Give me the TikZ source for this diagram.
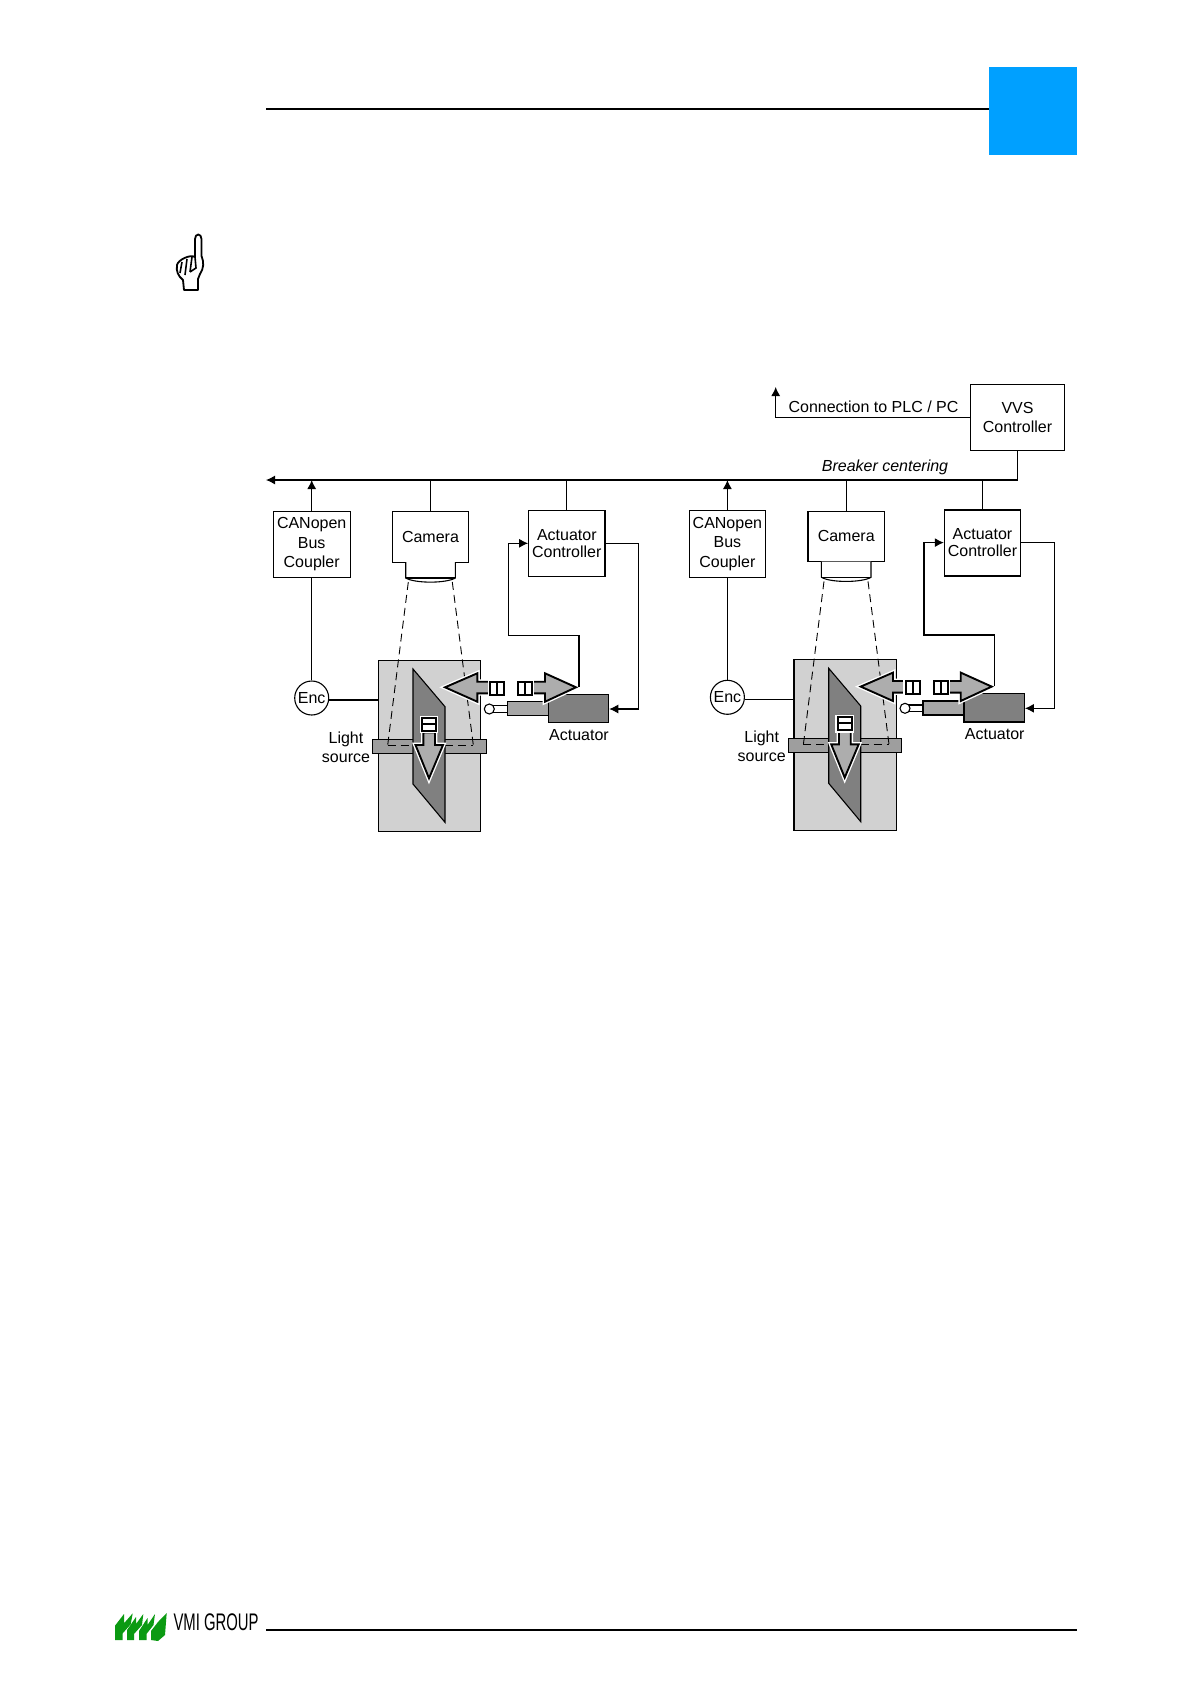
\documentclass[tikz,border=0pt]{standalone}
\usepackage{fontspec}
\setmainfont{Liberation Sans}
\usetikzlibrary{arrows.meta}
\definecolor{tabblue}{HTML}{00A0FF}
\definecolor{logogreen}{HTML}{0B9A12}
\tikzset{
    boxnode/.style={draw,fill=white,align=center,line width=1.1pt,inner sep=0pt},
    lbl/.style={align=center,inner sep=0pt},
    wire/.style={line width=1.1pt},
    arrowwire/.style={wire,-{Latex[length=9pt,width=9pt]}},
    dashwire/.style={line width=0.9pt,dash pattern=on 8pt off 5pt},
    movearrow/.style={preaction={draw=white,line width=4.6pt},draw=black,line width=1.9pt,fill=black!32},
}
\begin{document}
\begin{tikzpicture}[x=1pt,y=-1pt,font=\fontsize{16}{19.5}\selectfont]
    \useasboundingbox (0,0) rectangle (1191,1684);
    % page furniture
    \fill[tabblue] (989,66.6) rectangle (1077,154.6);
    \draw[line width=2pt] (266,108.5) -- (989,108.5);
    \draw[line width=2pt] (266,1629.5) -- (1077,1629.5);
    \fill[logogreen] (115,1625.7) -- (124,1614) -- (124,1623.3) -- (132.7,1613.3) -- (130.7,1624.3) -- (122.7,1633.3) -- (122.7,1640) -- (115,1640) -- cycle;
    \fill[logogreen] (127,1640) -- (127,1630) -- (136,1617) -- (136,1624) -- (143.3,1614) -- (142,1625) -- (134,1634) -- (134,1640) -- cycle;
    \fill[logogreen] (139,1640) -- (139,1631) -- (147.5,1618) -- (147.5,1625) -- (155,1614) -- (153.5,1625) -- (146.5,1634) -- (146.5,1640) -- cycle;
    \fill[logogreen] (151,1640) -- (151,1631) -- (158,1622) -- (166.7,1613) -- (165,1635) -- (158,1641) -- cycle;
    \node[lbl,anchor=west,font=\fontsize{24}{24}\selectfont] (logotext) at (173.3,1622) {\scalebox{0.62}[1]{VMI GROUP}};
    % pointing hand
    \draw[line width=1.8pt,fill=white,line join=round] (195,257) -- (195,239) .. controls (195,233) and (201.5,233) .. (201.5,239)
        -- (201.5,256) .. controls (204,262) and (204,268) .. (200,274) -- (198,279) -- (198,290) -- (184,290) -- (183,280)
        .. controls (178,276) and (176,271) .. (177,265) .. controls (178,260) and (190,254) .. (195,257) -- cycle;
    \draw[line width=1.6pt] (182,262) -- (180,273) (187,259) -- (185,275) (192,257) -- (190,272) (195,257) -- (196,268) -- (190,272);
    % top of the chain
    \node[boxnode,minimum width=93.6pt,minimum height=66.4pt] (vvs) at (1017.5,417.5) {VVS\\Controller};
    \coordinate (plcend) at (775.7,387);
    \coordinate (busend) at (266,480);
    \draw[arrowwire] (vvs.west |- 0,417.7) -| (plcend);
    \draw[arrowwire] (vvs.south) |- (busend);
    \node[lbl] (plclabel) at (873.5,407) {Connection to PLC / PC};
    \node[lbl,font=\fontsize{16}{19}\selectfont\itshape] (buslabel) at (885,467) {Breaker centering};
    % both centering stations
    \foreach \st/\dx/\dy in {a/0/0,b/415.7/-0.7} {
    \begin{scope}[shift={(\dx,\dy)}]
        \node[boxnode,minimum width=76.7pt,minimum height=66.7pt] (coupler\st) at (311.7,544.4) {CANopen\\Bus\\Coupler};
        \node[boxnode,minimum width=76.4pt,minimum height=50.3pt] (camera\st) at (430.5,537) {Camera};
        \node[boxnode,minimum width=76.3pt,minimum height=66pt,font=\fontsize{16}{17}\selectfont] (actctrl\st) at (566.8,543.7) {Actuator\\Controller};
        \node[draw,circle,fill=white,minimum size=34pt,inner sep=0pt,line width=1.1pt] (enc\st) at (311.7,698) {Enc};
        % product block and light source
        \node[draw,fill=black!18,minimum width=102.4pt,minimum height=171pt,inner sep=0pt,line width=1.1pt] (block\st) at (429.5,745.8) {};
        \node[draw,fill=black!38,minimum width=113.7pt,minimum height=14pt,inner sep=0pt,line width=1.1pt] (light\st) at (429.2,746.3) {};
        \draw[line width=1.1pt,fill=black!50] (413,669) -- (445,706.7) -- (445,822.3) -- (413,784) -- cycle;
        \draw[dashwire] (387.7,745) -- (413,745) (445,745) -- (473.3,745);
        % lens
        \draw[wire,fill=white] (405.7,562.2) -- (405.7,578) .. controls (415,583.5) and (446,583.5) .. (455.3,578) -- (455.3,562.2);
        \draw[wire] (405.7,578) -- (455.3,578);
        \coordinate (lensl\st) at (408.3,582);
        \coordinate (lensr\st) at (452.3,582);
        \coordinate (lightl\st) at (387.7,745);
        \coordinate (lightr\st) at (473.3,745);
        \draw[dashwire] (lensl\st) -- (lightl\st);
        \draw[dashwire] (lensr\st) -- (lightr\st);
        % actuator
        \node[draw,fill=black!50,minimum width=60.4pt,minimum height=28.4pt,inner sep=0pt,line width=1.1pt] (actuator\st) at (578.5,708.5) {};
        \draw[wire,fill=black!35] (actuator\st.west |- 0,701.7) -- (507.3,701.7) -- (507.3,715.7) -- (actuator\st.west |- 0,715.7);
        \draw[wire,fill=white] (507.3,705.7) -- (493.3,705.7) -- (493.3,712.3) -- (507.3,712.3) -- cycle;
        \node[draw,circle,fill=white,minimum size=10pt,inner sep=0pt,line width=1.1pt] (pivot\st) at (489.3,709) {};
        \node[lbl] (actlabel\st) at (579,735) {Actuator};
        \node[lbl,font=\fontsize{16}{19.4}\selectfont] (lightlabel\st) at (346,747) {Light\\source};
        % movement arrows
        \draw[movearrow] (445,687.3) -- (477.3,673.3) -- (477.3,681.7) -- (490,681.7) -- (490,693.3) -- (477.3,693.3) -- (477.3,701.7) -- cycle;
        \draw[movearrow,fill=white] (490,681.7) rectangle (497,694.7) (497,681.7) rectangle (504,694.7);
        \draw[movearrow] (576,687.3) -- (545,673.3) -- (545,681.7) -- (532,681.7) -- (532,693.3) -- (545,693.3) -- (545,701.7) -- cycle;
        \draw[movearrow,fill=white] (518,681.7) rectangle (525,694.7) (525,681.7) rectangle (532,694.7);
        \draw[movearrow] (429,778.3) -- (415.5,745) -- (423.3,745) -- (423.3,732.5) -- (435,732.5) -- (435,745) -- (443,745) -- cycle;
        \draw[movearrow,fill=white] (422,718) rectangle (436,724) (422,724) rectangle (436,731);
        % connections
        \draw[arrowwire] (coupler\st.north) -- (coupler\st.north |- busend);
        \draw[wire] (camera\st.north) -- (camera\st.north |- busend);
        \draw[wire] (actctrl\st.north) -- (actctrl\st.north |- busend);
        \draw[wire] (coupler\st.south) -- (enc\st.north);
        \draw[wire] (enc\st.east |- 0,700) -- (block\st.west |- 0,700);
        \coordinate (sensor\st) at (579,687);
        \coordinate (inport\st) at (actctrl\st.west |- 0,543.3);
        \coordinate (outport\st) at (actctrl\st.east |- 0,543.3);
        \draw[arrowwire] (sensor\st) |- (508.3,635.7) |- (inport\st);
        \draw[arrowwire] (outport\st) -| (638.7,709) -- (actuator\st.east |- 0,709);
    \end{scope}
    }
\end{tikzpicture}
\end{document}
